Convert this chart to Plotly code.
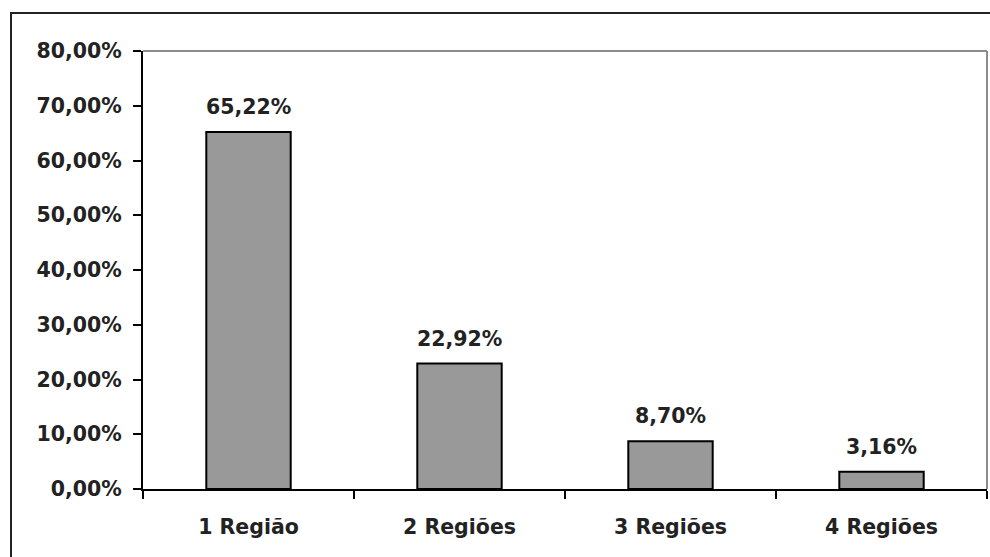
import plotly.graph_objects as go

categories = ["1 Região", "2 Regiões", "3 Regiões", "4 Regiões"]
values = [65.22, 22.92, 8.70, 3.16]
y_ticks = [0, 10, 20, 30, 40, 50, 60, 70, 80]
y_tick_text = [f"{v:.2f}%".replace(".", ",") for v in y_ticks]

W, H = 990, 557
L, R, T, B = 143, 3, 51, 68
pw, ph = W - L - R, H - T - B

fam = "DejaVu Sans, Verdana, sans-serif"
font = dict(family=fam, size=20.5, color="#222222", weight="bold")
xfont = dict(family=fam, size=20.5, color="#222222", weight="bold")

fig = go.Figure()
fig.add_trace(go.Bar(
    x=categories, y=values, width=0.4,
    marker=dict(color="#999999", line=dict(color="#000000", width=2)),
    hoverinfo="skip",
))

for c, v in zip(categories, values):
    fig.add_annotation(x=c, y=v, text=f"{v:.2f}%".replace(".", ","),
                       showarrow=False, yanchor="bottom", yshift=11, font=font)

# plot-area top/right border (gray)
fig.add_shape(type="line", xref="paper", yref="paper", x0=0, x1=1, y0=1, y1=1,
              line=dict(color="#8c8c8c", width=2))
fig.add_shape(type="line", xref="paper", yref="paper", x0=1, x1=1, y0=0, y1=1,
              line=dict(color="#8c8c8c", width=2))
# outer frame
fig.add_shape(type="rect", xref="paper", yref="paper",
              x0=(11 - L) / pw, x1=(1005 - L) / pw,
              y0=(H - B - 570) / ph, y1=(H - B - 13) / ph,
              line=dict(color="#222222", width=2), fillcolor="rgba(0,0,0,0)")

fig.update_layout(
    width=W, height=H, margin=dict(l=L, r=R, t=T, b=B, pad=0),
    paper_bgcolor="white", plot_bgcolor="white", showlegend=False,
    font=font, bargap=0.6,
)
fig.update_xaxes(showline=True, linecolor="#000000", linewidth=2,
                 ticks="outside", ticklen=8, tickwidth=2, tickcolor="#000000",
                 tickson="boundaries", showgrid=False, ticklabelstandoff=18,
                 tickfont=xfont, fixedrange=True)
fig.update_yaxes(range=[0, 80], tickvals=y_ticks, ticktext=y_tick_text,
                 showline=True, linecolor="#000000", linewidth=2,
                 ticks="outside", ticklen=8, tickwidth=2, tickcolor="#000000",
                 showgrid=False, zeroline=False, ticklabelstandoff=7,
                 tickfont=font, fixedrange=True)

fig.write_html("out.html")
